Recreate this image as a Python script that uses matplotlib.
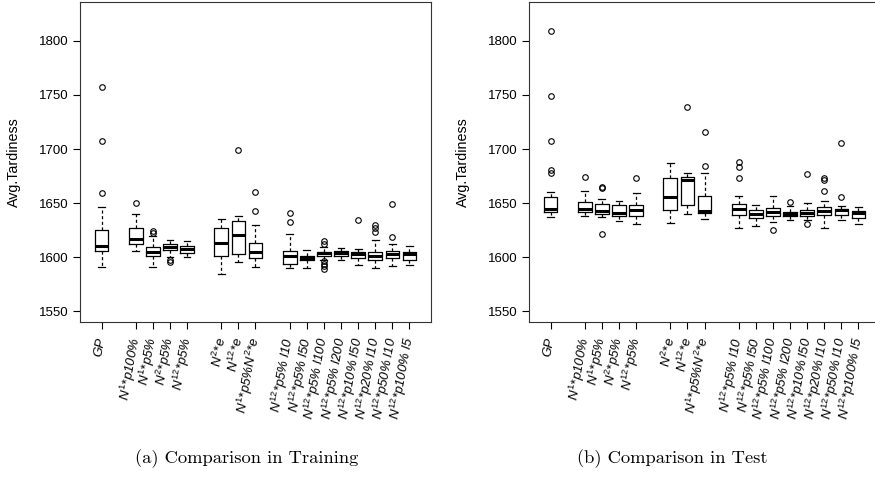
import numpy as np
import matplotlib
matplotlib.use("Agg")
import matplotlib.pyplot as plt

plt.rcParams['font.family'] = ['Liberation Sans', 'DejaVu Sans']
plt.rcParams['mathtext.fontset'] = 'custom'
plt.rcParams['mathtext.it'] = 'Liberation Sans:italic'
plt.rcParams['mathtext.rm'] = 'Liberation Sans'

labels = ['GP',
          r'$N^{1}$*p100%', r'$N^{1}$*p5%', r'$N^{2}$*p5%', r'$N^{12}$*p5%',
          r'$N^{2}$*e', r'$N^{12}$*e', r'$N^{1}$*p5%$N^{2}$*e',
          r'$N^{12}$*p5% l10', r'$N^{12}$*p5% l50', r'$N^{12}$*p5% l100',
          r'$N^{12}$*p5% l200', r'$N^{12}$*p10% l50', r'$N^{12}$*p20% l10',
          r'$N^{12}$*p50% l10', r'$N^{12}$*p100% l5']
group_sizes = [1, 4, 3, 8]

# training results
train_lo = [1590.9, 1605.4, 1590.9, 1600.2, 1599.9, 1584.1, 1595.2, 1590.9,
            1589.6, 1589.6, 1597.7, 1597.7, 1592.4, 1589.6, 1592.1, 1593.0]
train_q1 = [1605.7, 1612.2, 1601.4, 1606.3, 1603.9, 1601.1, 1603.3, 1599.2,
            1594.0, 1597.1, 1601.4, 1601.1, 1599.2, 1597.1, 1599.2, 1597.7]
train_med = [1610.7, 1616.9, 1605.1, 1609.4, 1607.3, 1613.2, 1620.3, 1604.5,
             1601.1, 1599.2, 1603.6, 1603.9, 1602.6, 1600.8, 1602.6, 1602.6]
train_q3 = [1624.9, 1626.8, 1609.4, 1612.5, 1610.7, 1627.4, 1633.6, 1612.8,
            1606.0, 1601.4, 1605.1, 1605.7, 1605.1, 1605.1, 1605.7, 1605.1]
train_hi = [1646.0, 1639.8, 1619.3, 1616.2, 1615.3, 1635.4, 1638.2, 1629.5,
            1621.8, 1606.3, 1609.4, 1608.5, 1607.6, 1615.6, 1612.5, 1610.7]
train_out = [[1757, 1707, 1659], [1649.7], [1624.0, 1622.7], [1597.7, 1595.8], [],
             [], [1699], [1660.2, 1642.8],
             [1640.4, 1632.3], [], [1615.0, 1611.9, 1596.4, 1593.4, 1591.5, 1589.0],
             [], [1633.9], [1629.5, 1626.8, 1623.4], [1649.0, 1618.4], []]

# test results
test_lo = [1636.7, 1637.9, 1637.3, 1633.3, 1631.1, 1631.7, 1640.1, 1635.4,
           1627.1, 1628.9, 1632.6, 1634.8, 1634.2, 1627.2, 1634.8, 1630.2]
test_q1 = [1642.2, 1641.3, 1640.1, 1637.9, 1637.9, 1643.2, 1648.1, 1640.4,
           1638.8, 1636.4, 1637.9, 1637.9, 1638.2, 1638.8, 1639.1, 1636.3]
test_med = [1644.4, 1644.1, 1642.8, 1641.0, 1643.8, 1655.8, 1671.0, 1642.8,
            1644.1, 1640.1, 1641.6, 1640.1, 1641.0, 1642.9, 1643.5, 1640.4]
test_q3 = [1655.8, 1651.2, 1649.0, 1648.1, 1648.1, 1673.4, 1674.4, 1656.5,
           1648.7, 1643.5, 1645.3, 1642.2, 1643.5, 1646.6, 1644.7, 1642.8]
test_hi = [1660.5, 1661.1, 1653.7, 1652.1, 1658.9, 1686.7, 1677.5, 1677.5,
           1656.8, 1648.1, 1656.5, 1647.2, 1650.3, 1652.2, 1647.2, 1646.0]
test_out = [[1809.5, 1748.6, 1707.8, 1680.6, 1678.1], [1674.4], [1665.1, 1663.6, 1621.8], [],
            [1672.8], [], [1739.3], [1716.1, 1684.3],
            [1688.3, 1683.0, 1673.4], [], [1624.9], [1651.2], [1676.9, 1631.1],
            [1673.2, 1671.3, 1661.4], [1705.6, 1655.5], []]

captions = ['(a) Comparison in Training', '(b) Comparison in Test']

# box positions with one empty slot between groups
pos = []
p = 1
for g in group_sizes:
    for k in range(g):
        pos.append(p)
        p += 1
    p += 1
pos = np.array(pos)


def stats(lo, q1, med, q3, hi, out):
    s = []
    for i in range(len(med)):
        s.append(dict(whislo=lo[i], q1=q1[i], med=med[i], q3=q3[i], whishi=hi[i], fliers=out[i]))
    return s


fig = plt.figure(figsize=(8.75, 4.8), dpi=100)
ax1 = fig.add_axes([80/875, 1-322/480, 351/875, 320/480])
ax2 = fig.add_axes([529/875, 1-322/480, 351/875, 320/480])

data = [stats(train_lo, train_q1, train_med, train_q3, train_hi, train_out),
        stats(test_lo, test_q1, test_med, test_q3, test_hi, test_out)]

for ax, st in zip([ax1, ax2], data):
    ax.bxp(st, positions=pos, widths=0.8, capwidths=0.4,
           boxprops=dict(color='black', lw=0.9),
           medianprops=dict(color='black', lw=2.2, solid_capstyle='butt'),
           whiskerprops=dict(color='black', lw=0.9, linestyle=(0, (2.5, 2))),
           capprops=dict(color='black', lw=0.9),
           flierprops=dict(marker='o', markersize=4, markerfacecolor='none',
                           markeredgecolor='black', markeredgewidth=0.8))
    ax.set_xlim(-0.26, 20.26)
    ax.set_ylim(1540, 1836)
    ax.set_yticks([1550, 1600, 1650, 1700, 1750, 1800])
    ax.set_xticks(pos)
    ax.set_xticklabels(labels, rotation=80, ha='right', va='center',
                       rotation_mode='anchor', fontstyle='italic', fontsize=10.3)
    ax.tick_params(axis='both', direction='out', length=5, width=0.8, labelsize=9.5, pad=3)
    ax.tick_params(axis='x', pad=6)
    ax.set_ylabel('Avg.Tardiness', fontsize=10.3)
    ax.yaxis.set_label_coords(-0.168, 0.5)
    for sp in ax.spines.values():
        sp.set_linewidth(0.8)
        sp.set_color('#333333')

fig.text(247/875, 1-459/480, captions[0], family='cmr10', fontsize=13.3, ha='center', va='center')
fig.text(672/875, 1-459/480, captions[1], family='cmr10', fontsize=13.3, ha='center', va='center')

fig.savefig('out.png', dpi=100)
